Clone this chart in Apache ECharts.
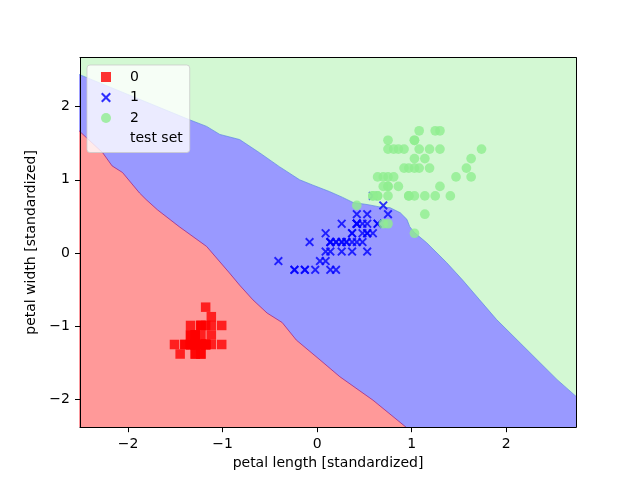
<!DOCTYPE html>
<html>
<head>
<meta charset="utf-8">
<script src="https://cdn.jsdelivr.net/npm/echarts@6/dist/echarts.min.js"></script>
<style>html,body{margin:0;padding:0;background:#fff;}#chart{width:640px;height:480px;}</style>
</head>
<body>
<div id="chart"></div>
<script>
// ---- data (standardized petal length, petal width) ----
const class0 = [
[-1.29,-1.25],[-1.29,-1.25],[-1.34,-1.25],[-1.23,-1.25],[-1.29,-1.25],[-1.12,-0.99],[-1.29,-1.12],[-1.23,-1.25],[-1.29,-1.25],[-1.23,-1.38],
[-1.23,-1.25],[-1.18,-1.25],[-1.29,-1.38],[-1.45,-1.38],[-1.40,-1.25],[-1.23,-0.99],[-1.34,-0.99],[-1.29,-1.12],[-1.12,-1.12],[-1.23,-1.12],
[-1.12,-1.25],[-1.23,-0.99],[-1.51,-1.25],[-1.12,-0.87],[-1.01,-1.25],[-1.18,-1.25],[-1.18,-0.99],[-1.23,-1.25],[-1.29,-1.25],[-1.18,-1.25],
[-1.18,-1.25],[-1.23,-0.99],[-1.23,-1.38],[-1.29,-1.25],[-1.23,-1.25],[-1.40,-1.25],[-1.34,-1.25],[-1.29,-1.38],[-1.34,-1.25],[-1.23,-1.25],
[-1.34,-1.12],[-1.34,-1.12],[-1.34,-1.25],[-1.18,-0.74],[-1.01,-0.99],[-1.29,-1.12],[-1.18,-1.25],[-1.29,-1.25],[-1.23,-1.25],[-1.29,-1.25]
];
const class1 = [
[0.53,0.27],[0.42,0.40],[0.64,0.40],[0.14,0.15],[0.48,0.40],[0.42,0.15],[0.53,0.53],[-0.24,-0.23],[0.48,0.15],[0.09,0.27],
[-0.13,-0.23],[0.26,0.40],[0.14,-0.23],[0.53,0.27],[-0.08,0.15],[0.37,0.27],[0.42,0.40],[0.20,-0.23],[0.42,0.40],[0.09,-0.11],
[0.59,0.78],[0.14,0.15],[0.64,0.40],[0.53,0.02],[0.31,0.15],[0.37,0.27],[0.59,0.27],[0.70,0.65],[0.42,0.40],[-0.13,-0.23],
[0.03,-0.11],[-0.02,-0.23],[0.09,0.02],[0.75,0.53],[0.42,0.40],[0.42,0.53],[0.53,0.40],[0.37,0.15],[0.20,0.15],[0.14,0.15],
[0.37,0.02],[0.48,0.27],[0.14,0.02],[-0.24,-0.23],[0.26,0.15],[0.26,0.02],[0.26,0.15],[0.31,0.15],[-0.41,-0.11],[0.20,0.15]
];
const class2 = [
[1.25,1.67],[0.75,0.91],[1.19,1.16],[1.03,0.78],[1.14,1.29],[1.58,1.16],[0.42,0.65],[1.41,0.78],[1.14,0.78],[1.30,1.67],
[0.75,1.04],[0.86,0.91],[0.97,1.16],[0.70,1.04],[0.75,1.54],[0.86,1.42],[0.97,0.78],[1.63,1.29],[1.74,1.42],[0.70,0.40],
[1.08,1.42],[0.64,1.04],[1.63,1.04],[0.64,0.78],[1.08,1.16],[1.25,0.78],[0.59,0.78],[0.64,0.78],[1.03,1.16],[1.14,0.53],
[1.30,0.91],[1.47,1.04],[1.03,1.29],[0.75,0.40],[1.03,0.27],[1.30,1.42],[1.03,1.54],[0.97,0.78],[0.59,0.78],[0.92,1.16],
[1.03,1.54],[0.75,1.42],[0.75,0.91],[1.19,1.42],[1.08,1.67],[0.81,1.42],[0.70,0.91],[0.81,1.04],[0.92,1.42],[0.75,0.78]
];
const testSet = [];
// decision boundaries
const redBlueBoundary = [
[-2.52,1.67],[-2.27,1.37],[-2.17,1.19],[-2.06,1.10],[-1.88,0.82],[-1.81,0.73],[-1.69,0.59],[-1.46,0.36],[-1.17,0.09],
[-0.93,-0.27],[-0.82,-0.44],[-0.68,-0.64],[-0.53,-0.82],[-0.37,-0.95],[-0.22,-1.19],[0.03,-1.46],[0.24,-1.69],[0.59,-2.01],[0.96,-2.40]
];
const blueGreenBoundary = [
[-2.52,2.44],[-1.35,1.82],[-1.17,1.73],[-1.03,1.62],[-0.82,1.55],[-0.61,1.37],[-0.40,1.18],[-0.185,1.00],[-0.05,0.93],
[0.13,0.84],[0.27,0.76],[0.38,0.69],[0.54,0.66],[0.66,0.63],[0.77,0.62],[0.88,0.55],[0.95,0.46],[0.98,0.36],[1.03,0.28],
[1.16,0.14],[1.37,-0.13],[1.54,-0.37],[1.72,-0.64],[1.90,-0.91],[2.15,-1.23],[2.36,-1.50],[2.54,-1.73],[2.75,-1.97]
];
const ticksX = [-2,-1,0,1,2];
const ticksY = [-2,-1,0,1,2];
const legendNames = ['0','1','2','test set'];

const FONT = 'DejaVu Sans';
const xPath = 'path://M0,1.5 L1.5,0 L5,3.5 L8.5,0 L10,1.5 L6.5,5 L10,8.5 L8.5,10 L5,6.5 L1.5,10 L0,8.5 L3.5,5 Z';
const fmt = v => (v < 0 ? '\u2212' + Math.abs(v) : String(v));
const XMIN = -2.51, XMAX = 2.74, YMIN = -2.38, YMAX = 2.67;

const chart = echarts.init(document.getElementById('chart'), null, {renderer: 'canvas'});
const txt = {fontFamily: FONT, fontSize: 14, color: '#000'};
chart.setOption({
  animation: false,
  backgroundColor: '#fff',
  grid: {left: 80, right: 64, top: 57.6, bottom: 52.8, containLabel: false},
  xAxis: [
    {type: 'value', min: XMIN, max: XMAX, position: 'bottom', z: 10,
     name: 'petal length [standardized]', nameLocation: 'middle', nameGap: 28, nameTextStyle: txt,
     axisLine: {show: true, onZero: false, lineStyle: {color: '#000', width: 1}},
     axisTick: {show: true, inside: false, length: 5, lineStyle: {color: '#000', width: 1}, customValues: ticksX},
     axisLabel: Object.assign({customValues: ticksX, margin: 10, formatter: fmt}, txt),
     splitLine: {show: false}},
    {type: 'value', min: XMIN, max: XMAX, position: 'top', z: 10,
     axisLine: {show: true, onZero: false, lineStyle: {color: '#000', width: 1}},
     axisTick: {show: false}, axisLabel: {show: false}, splitLine: {show: false}}
  ],
  yAxis: [
    {type: 'value', min: YMIN, max: YMAX, position: 'left', z: 10,
     name: 'petal width [standardized]', nameLocation: 'middle', nameGap: 30, nameTextStyle: txt,
     axisLine: {show: true, onZero: false, lineStyle: {color: '#000', width: 1}},
     axisTick: {show: true, inside: false, length: 5, lineStyle: {color: '#000', width: 1}, customValues: ticksY},
     axisLabel: Object.assign({customValues: ticksY, margin: 10, formatter: fmt}, txt),
     splitLine: {show: false}},
    {type: 'value', min: YMIN, max: YMAX, position: 'right', z: 10,
     axisLine: {show: true, onZero: false, lineStyle: {color: '#000', width: 1}},
     axisTick: {show: false}, axisLabel: {show: false}, splitLine: {show: false}}
  ],
  legend: {
    left: 87, top: 65, orient: 'vertical', selectedMode: false,
    padding: [5, 7, 7, 14], itemGap: 6.5, itemWidth: 10, itemHeight: 10,
    backgroundColor: 'rgba(255,255,255,0.8)', borderColor: 'rgba(204,204,204,0.8)', borderWidth: 1, borderRadius: 3,
    textStyle: {fontFamily: FONT, fontSize: 14, color: '#000', lineHeight: 14, padding: [0, 0, 0, 14]},
    data: [
      {name: legendNames[0], icon: 'rect'},
      {name: legendNames[1], icon: xPath},
      {name: legendNames[2], icon: 'circle'},
      {name: legendNames[3], icon: 'circle', itemStyle: {opacity: 0}}
    ]
  },
  series: [
    {name: 'region2', type: 'line', data: blueGreenBoundary, symbol: 'none', silent: true, z: 1,
     lineStyle: {width: 0, opacity: 0}, areaStyle: {color: '#d3f8d3', opacity: 1, origin: 'end'}},
    {name: 'region1', type: 'line', data: blueGreenBoundary, symbol: 'none', silent: true, z: 1,
     lineStyle: {width: 0.8, color: 'rgba(90,140,220,0.9)'}, areaStyle: {color: '#9999ff', opacity: 1, origin: 'start'}},
    {name: 'region0', type: 'line', data: redBlueBoundary, symbol: 'none', silent: true, z: 1,
     lineStyle: {width: 0.8, color: 'rgba(150,30,130,0.9)'}, areaStyle: {color: '#ff9999', opacity: 1, origin: 'start'}},
    {name: legendNames[0], type: 'scatter', data: class0, symbol: 'rect', symbolSize: 9.5, z: 3,
     itemStyle: {color: '#ff0000', opacity: 0.8}},
    {name: legendNames[1], type: 'scatter', data: class1, symbol: xPath, symbolSize: 9, z: 3,
     itemStyle: {color: '#0000ff', opacity: 0.8}},
    {name: legendNames[2], type: 'scatter', data: class2, symbol: 'circle', symbolSize: 9.7, z: 3,
     itemStyle: {color: '#90ee90', opacity: 0.8}},
    {name: legendNames[3], type: 'scatter', data: testSet, symbol: 'circle', symbolSize: 10, z: 3,
     itemStyle: {color: 'rgba(0,0,0,0)'}}
  ]
});
</script>
</body>
</html>
